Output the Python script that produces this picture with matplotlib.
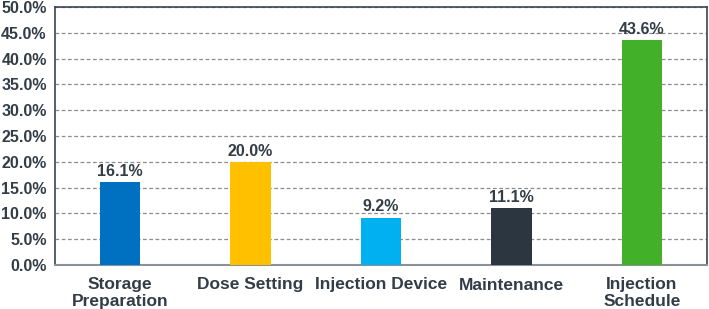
import matplotlib.pyplot as plt
from matplotlib.ticker import PercentFormatter

categories = ['Storage\nPreparation', 'Dose Setting', 'Injection Device', 'Maintenance', 'Injection\nSchedule']
values = [16.1, 20.0, 9.2, 11.1, 43.6]
colors = ['#0070C0', '#FFC000', '#00B0F0', '#2B3640', '#43B02A']
yticks = [0, 5, 10, 15, 20, 25, 30, 35, 40, 45, 50]

text_color = '#333D47'
plt.rcParams['font.family'] = ['Liberation Sans', 'DejaVu Sans']
plt.rcParams['font.weight'] = 'bold'

fig = plt.figure(figsize=(7.09, 3.09), dpi=100)
ax = fig.add_axes([55 / 709, 44 / 309, 652 / 709, 258 / 309])

x = range(len(categories))
bars = ax.bar(x, values, width=0.31, color=colors, zorder=3)
for b, v in zip(bars, values):
    ax.text(b.get_x() + b.get_width() / 2, v + 0.6, f'{v:.1f}%', ha='center', va='bottom',
            fontsize=11.5, fontweight='bold', color=text_color, zorder=4)

ax.set_xlim(-0.5, len(categories) - 0.5)
ax.set_ylim(0, 50)
ax.set_yticks(yticks)
ax.yaxis.set_major_formatter(PercentFormatter(decimals=1))
ax.set_xticks(list(x))
ax.set_xticklabels(categories, fontsize=12.5, fontweight='bold', color=text_color, linespacing=1.15)
ax.tick_params(axis='y', labelsize=11.5, labelcolor=text_color, length=0, pad=6)
ax.tick_params(axis='x', length=0, pad=9)
ax.grid(axis='y', linestyle=(0, (3, 2)), color='#8C8C8C', linewidth=0.9, zorder=0)

for s in ['left', 'top', 'right']:
    ax.spines[s].set_color('#3A4550')
    ax.spines[s].set_linewidth(1.2)
ax.spines['bottom'].set_color('#8C9196')
ax.spines['bottom'].set_linewidth(1.5)

fig.savefig('out.png', dpi=100)
